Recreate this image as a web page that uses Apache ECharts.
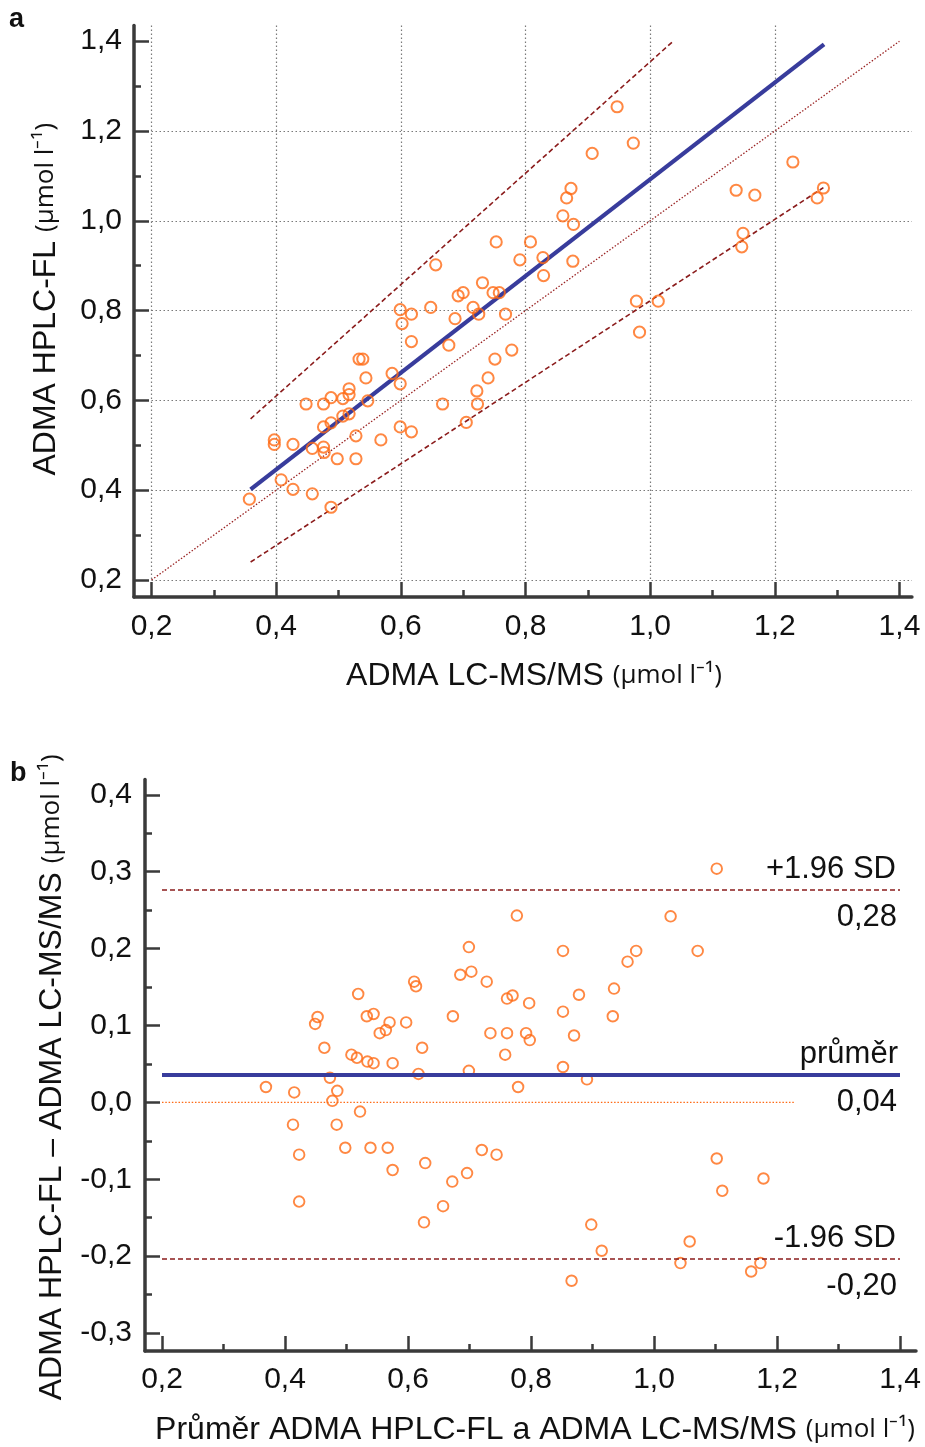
<!DOCTYPE html>
<html><head><meta charset="utf-8">
<script src="https://cdn.jsdelivr.net/npm/echarts@6/dist/echarts.min.js"></script>
<style>html,body{margin:0;padding:0;background:#fff}#c{width:925px;height:1447px}</style>
</head><body><div id="c"></div>
<script>
// ---------- DATA ----------
// Panel a: ADMA LC-MS/MS (x) vs ADMA HPLC-FL (y)
const topLcms = [0.357,0.397,0.397,0.427,0.408,0.427,0.458,0.488,0.448,0.476,0.488,0.507,0.517,0.517,0.547,0.544,0.533,0.539,0.476,0.488,0.507,0.517,0.476,0.477,0.458,0.498,0.528,0.528,0.568,0.586,0.599,0.599,0.617,0.602,0.617,0.648,0.656,0.599,0.617,0.667,0.677,0.687,0.692,0.700,0.716,0.725,0.731,0.748,0.758,0.768,0.791,0.778,0.751,0.740,0.722,0.723,0.705,0.947,0.973,0.907,0.873,0.866,0.860,0.877,0.753,0.808,0.828,0.829,0.876,1.138,1.168,1.229,1.278,1.268,1.149,1.147,0.978,1.013,0.983];
const topHplc = [0.380,0.512,0.502,0.502,0.423,0.402,0.392,0.362,0.592,0.592,0.606,0.604,0.626,0.613,0.599,0.650,0.692,0.692,0.541,0.550,0.565,0.570,0.496,0.484,0.493,0.470,0.470,0.521,0.512,0.660,0.637,0.802,0.792,0.771,0.731,0.807,0.902,0.541,0.530,0.592,0.723,0.782,0.833,0.840,0.807,0.792,0.862,0.840,0.840,0.792,0.913,0.712,0.692,0.650,0.621,0.592,0.551,1.254,1.173,1.150,1.072,1.051,1.011,0.992,0.953,0.953,0.918,0.878,0.910,1.068,1.057,1.131,1.073,1.051,0.972,0.942,0.821,0.821,0.752];
const regressionLine = [[0.359,0.402],[1.279,1.393]];
const upperBandLine = [[0.359,0.559],[1.037,1.400]];
const lowerBandLine = [[0.359,0.240],[1.278,1.074]];
const identityLine = [[0.2,0.2],[1.4,1.4]];
const topTicks = [0.2,0.4,0.6,0.8,1.0,1.2,1.4];
const topMinorTicks = [0.3,0.5,0.7,0.9,1.1,1.3];

// Panel b: Bland-Altman
const baMean = [0.369,0.415,0.473,0.485,0.477,0.464,0.449,0.453,0.519,0.508,0.517,0.534,0.544,0.533,0.544,0.554,0.564,0.570,0.575,0.597,0.610,0.613,0.623,0.617,0.673,0.699,0.685,0.703,0.728,0.699,0.734,0.761,0.758,0.761,0.770,0.777,0.779,1.102,1.027,0.852,0.971,0.957,1.071,0.935,0.878,0.797,0.852,0.933,0.792,0.798,0.870,0.852,0.891,0.413,0.423,0.423,0.484,0.522,0.498,0.539,0.567,0.575,0.628,0.626,0.657,0.672,0.696,0.720,0.744,1.102,1.111,1.178,0.898,0.915,0.866,1.058,1.043,1.158,1.173];
const baDiff = [0.020,0.013,0.032,0.015,0.002,0.071,0.102,0.111,0.141,0.062,0.058,0.053,0.051,0.112,0.115,0.090,0.094,0.104,0.051,0.104,0.157,0.151,0.071,0.037,0.112,0.202,0.166,0.170,0.157,0.041,0.090,0.090,0.062,0.135,0.139,0.243,0.020,0.304,0.242,0.197,0.197,0.183,0.197,0.148,0.140,0.129,0.118,0.112,0.090,0.081,0.087,0.046,0.030,-0.029,-0.068,-0.129,-0.029,-0.012,-0.059,-0.059,-0.059,-0.088,-0.079,-0.156,-0.135,-0.103,-0.092,-0.062,-0.068,-0.073,-0.115,-0.099,-0.159,-0.193,-0.232,-0.181,-0.209,-0.220,-0.209];
const meanDiff = 0.036, upperLoA = 0.276, lowerLoA = -0.204;
const limitLineRange = [0.2, 1.4];
const zeroLineRange = [0.2, 1.229];
const baXTicks = [0.2,0.4,0.6,0.8,1.0,1.2,1.4];
const baXMinorTicks = [0.3,0.5,0.7,0.9,1.1,1.3];
const baYTicks = [-0.3,-0.2,-0.1,0,0.1,0.2,0.3,0.4];
const baYMinorTicks = [-0.25,-0.15,-0.05,0.05,0.15,0.25,0.35];

// ---------- STYLE / LAYOUT ----------
const FONT = "'Liberation Sans', Arial, sans-serif";
const UNIT_FONT = "'Open Sans', 'Liberation Sans', sans-serif";
const AXIS = '#3a3a3a';
const ORANGE = '#ff6a14';
const BLUE = '#383c9c';
const DARKRED = '#8b1c1c';
const fmt1 = v => v.toFixed(1).replace('.', ',');
const fmt2 = v => v.toFixed(2).replace('.', ',');

// panel a scale
const A = {x0:151.5, xs:623.3, axL:134, y0:580, ys:449, axB:597, xMax:1.42, yMax:1.435};
A.xMin = 0.2 - (A.x0 - A.axL) / A.xs;
A.yMin = 0.2 - (A.axB - A.y0) / A.ys;
A.top = A.y0 - (A.yMax - 0.2) * A.ys;
// panel b scale
const B = {x0:162, xs:615, axL:145, yZero:1103.5, ys:771.5, axB:1353, xMax:1.426, yMax:0.42};
B.xMin = 0.2 - (B.x0 - B.axL) / B.xs;
B.yMin = -((B.axB - B.yZero) / B.ys);
B.top = B.yZero - B.yMax * B.ys;

const nameStyle = (pad) => ({
  color:'#111', padding: pad,
  rich: { a:{fontSize:32, fontFamily:FONT, color:'#111'}, b:{fontSize:26, fontFamily:UNIT_FONT, color:'#111'} }
});

function mainAxis(o) {
  return {
    type:'value', gridIndex:o.grid, position:o.pos, min:o.min, max:o.max,
    name:o.name, nameLocation:'middle', nameGap:o.nameGap, nameTextStyle:nameStyle(o.pad),
    axisLine:{show:true, onZero:false, lineStyle:{color:AXIS, width:3.5}},
    axisTick:{show:true, inside:true, length:15, customValues:o.ticks, lineStyle:{color:AXIS, width:2.5}},
    axisLabel:{show:true, customValues:o.ticks, formatter:fmt1, margin:o.margin, fontSize:30, fontFamily:FONT, color:'#111'},
    splitLine:{show:false}
  };
}
function minorAxis(o) {
  return {
    type:'value', gridIndex:o.grid, position:o.pos, min:o.min, max:o.max,
    axisLine:{show:false, onZero:false},
    axisTick:{show:true, inside:true, length:7, customValues:o.ticks, lineStyle:{color:AXIS, width:2.5}},
    axisLabel:{show:false}, splitLine:{show:false}
  };
}
function gridAxis(o) {
  return {
    type:'value', gridIndex:1, position:o.pos, min:0.2, max:o.max, interval:0.2,
    axisLine:{show:false, onZero:false},
    axisTick:{show:false, customValues:o.ticks},
    axisLabel:{show:false},
    splitLine:{show:true, showMinLine:true, showMaxLine:false, lineStyle:{color:'#7a7a7a', type:[1.5,2.5], width:1.2}}
  };
}
const hidden = {color:'rgba(0,0,0,0)', width:0.01, type:'solid'};
const lblStyle = {fontSize:31, fontFamily:FONT, color:'#111'};

const option = {
  animation:false,
  backgroundColor:'#fff',
  title:[
    {text:'a', left:9, top:6, padding:0, textStyle:{fontSize:27, fontWeight:'bold', fontFamily:FONT, color:'#111'}},
    {text:'b', left:10, top:760, padding:0, textStyle:{fontSize:27, fontWeight:'bold', fontFamily:FONT, color:'#111'}}
  ],
  grid:[
    {left:A.axL, top:A.top, width:(A.xMax - A.xMin)*A.xs, height:(A.yMax - A.yMin)*A.ys},
    {left:A.x0, top:A.top, width:(A.xMax - 0.2)*A.xs, height:(A.yMax - 0.2)*A.ys},
    {left:B.axL, top:B.top, width:(B.xMax - B.xMin)*B.xs, height:(B.yMax - B.yMin)*B.ys}
  ],
  xAxis:[
    mainAxis({grid:0, pos:'bottom', min:A.xMin, max:A.xMax, ticks:topTicks, margin:15, nameGap:63, pad:[0,0,0,22],
      name:'{a|ADMA LC-MS/MS }{b|(µmol l⁻¹)}'}),
    minorAxis({grid:0, pos:'bottom', min:A.xMin, max:A.xMax, ticks:topMinorTicks}),
    gridAxis({pos:'bottom', max:A.xMax, ticks:topTicks}),
    mainAxis({grid:2, pos:'bottom', min:B.xMin, max:B.xMax, ticks:baXTicks, margin:14, nameGap:63, pad:[0,0,0,9],
      name:'{a|Průměr ADMA HPLC-FL a ADMA LC-MS/MS }{b|(µmol l⁻¹)}'}),
    minorAxis({grid:2, pos:'bottom', min:B.xMin, max:B.xMax, ticks:baXMinorTicks})
  ],
  yAxis:[
    mainAxis({grid:0, pos:'left', min:A.yMin, max:A.yMax, ticks:topTicks, margin:12, nameGap:72, pad:[0,0,0,24],
      name:'{a|ADMA HPLC-FL }{b|(µmol l⁻¹)}'}),
    minorAxis({grid:0, pos:'left', min:A.yMin, max:A.yMax, ticks:topMinorTicks}),
    gridAxis({pos:'left', max:A.yMax, ticks:topTicks}),
    mainAxis({grid:2, pos:'left', min:B.yMin, max:B.yMax, ticks:baYTicks, margin:13, nameGap:77, pad:[0,24,0,0],
      name:'{a|ADMA HPLC-FL – ADMA LC-MS/MS }{b|(µmol l⁻¹)}'}),
    minorAxis({grid:2, pos:'left', min:B.yMin, max:B.yMax, ticks:baYMinorTicks})
  ],
  series:[
    {type:'line', xAxisIndex:2, yAxisIndex:2, data:identityLine, symbol:'none', silent:true, z:2,
      lineStyle:{color:'#9b2525', width:1.3, type:[1.5,1.8]}},
    {type:'line', xAxisIndex:2, yAxisIndex:2, data:upperBandLine, symbol:'none', silent:true, z:2,
      lineStyle:{color:DARKRED, width:1.6, type:[5,3]}},
    {type:'line', xAxisIndex:2, yAxisIndex:2, data:lowerBandLine, symbol:'none', silent:true, z:2,
      lineStyle:{color:DARKRED, width:1.6, type:[5,3]}},
    {type:'line', xAxisIndex:2, yAxisIndex:2, data:regressionLine, symbol:'none', silent:true, z:3,
      lineStyle:{color:BLUE, width:4.2}},
    {type:'scatter', xAxisIndex:2, yAxisIndex:2, data:topLcms.map((x,i)=>[x, topHplc[i]]), z:4,
      symbol:'circle', symbolSize:11.2, itemStyle:{color:'rgba(255,255,255,0)', borderColor:ORANGE, borderWidth:2}},

    {type:'line', xAxisIndex:3, yAxisIndex:3, data:[[zeroLineRange[0],0],[zeroLineRange[1],0]], symbol:'none', silent:true, z:2,
      lineStyle:{color:ORANGE, width:1.3, type:[1.5,1.8]},
      markLine:{
        symbol:['none','none'], silent:true, animation:false,
        data:[
          [{coord:[limitLineRange[0], upperLoA], lineStyle:{color:DARKRED, width:1.6, type:[5,3]},
            label:Object.assign({show:true, position:'insideEndTop', formatter:'+1.96 SD', distance:[4,5]}, lblStyle)},
           {coord:[limitLineRange[1], upperLoA]}],
          [{coord:[limitLineRange[0], upperLoA + 1e-6], lineStyle:hidden,
            label:Object.assign({show:true, position:'insideEndBottom', formatter:fmt2(upperLoA), distance:[3,12]}, lblStyle)},
           {coord:[limitLineRange[1], upperLoA + 1e-6]}],
          [{coord:[limitLineRange[0], meanDiff], lineStyle:{color:BLUE, width:4.2, type:'solid'},
            label:Object.assign({show:true, position:'insideEndTop', formatter:'průměr', distance:[2,5]}, lblStyle)},
           {coord:[limitLineRange[1], meanDiff]}],
          [{coord:[limitLineRange[0], meanDiff + 1e-6], lineStyle:hidden,
            label:Object.assign({show:true, position:'insideEndBottom', formatter:fmt2(meanDiff), distance:[3,12]}, lblStyle)},
           {coord:[limitLineRange[1], meanDiff + 1e-6]}],
          [{coord:[limitLineRange[0], lowerLoA], lineStyle:{color:DARKRED, width:1.6, type:[5,3]},
            label:Object.assign({show:true, position:'insideEndTop', formatter:'-1.96 SD', distance:[4,5]}, lblStyle)},
           {coord:[limitLineRange[1], lowerLoA]}],
          [{coord:[limitLineRange[0], lowerLoA + 1e-6], lineStyle:hidden,
            label:Object.assign({show:true, position:'insideEndBottom', formatter:fmt2(lowerLoA), distance:[3,12]}, lblStyle)},
           {coord:[limitLineRange[1], lowerLoA + 1e-6]}]
        ]
      }},
    {type:'scatter', xAxisIndex:3, yAxisIndex:3, data:baMean.map((x,i)=>[x, baDiff[i]]), z:4,
      symbol:'circle', symbolSize:10.6, itemStyle:{color:'rgba(255,255,255,0)', borderColor:ORANGE, borderWidth:1.9}}
  ]
};
const chart = echarts.init(document.getElementById('c'), null, {renderer:'canvas'});
chart.setOption(option);
</script></body></html>
